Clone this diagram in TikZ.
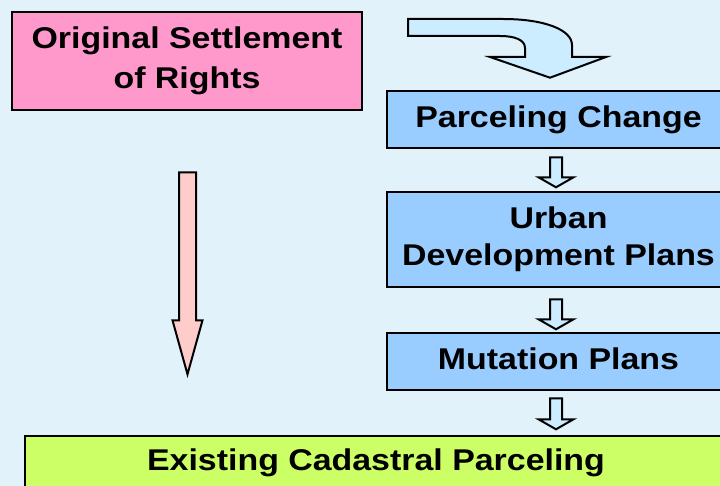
\documentclass[tikz,border=0pt]{standalone}
\usepackage{fontspec}
\usepackage{graphicx}
\setmainfont{Liberation Sans}
\usetikzlibrary{calc}
\definecolor{bgc}{RGB}{226,242,250}
\definecolor{pinkbox}{RGB}{255,153,204}
\definecolor{bluebox}{RGB}{153,204,255}
\definecolor{greenbox}{RGB}{204,255,102}
\definecolor{pinkarrow}{RGB}{255,204,204}
\definecolor{bluearrow}{RGB}{204,236,255}
\newcommand\widetxt[1]{\scalebox{1.13}[1]{\begin{tabular}{@{}c@{}}#1\end{tabular}}}
% #1 top centre, #2 total length, #3 shaft half width, #4 head half width, #5 head length, #6 style
\newcommand\blockdown[6]{%
  \draw[#6] ($(#1)+(-#3,0)$) -- ($(#1)+(-#3,#2-#5)$) -- ($(#1)+(-#4,#2-#5)$)
    -- ($(#1)+(0,#2)$) -- ($(#1)+(#4,#2-#5)$) -- ($(#1)+(#3,#2-#5)$)
    -- ($(#1)+(#3,0)$) -- cycle;}
\tikzset{
  box/.style={draw=black, line width=2.6pt, inner sep=0pt, anchor=center,
    font=\fontsize{30}{39}\selectfont\bfseries},
  barrow/.style={draw=black, line width=2pt, line join=miter},
}
\begin{document}
\begin{tikzpicture}[x=1pt, y=-1pt]
\useasboundingbox (0,0) rectangle (720,486);
\clip (0,0) rectangle (720,486);
\fill[bgc] (0,0) rectangle (720,486);

% boxes
\node[box, fill=pinkbox, minimum width=350pt, minimum height=98pt] (orig) at (187,61)
  {\widetxt{Original Settlement\\[1pt]of Rights}};
\node[box, fill=bluebox, minimum width=343pt, minimum height=57pt] (parcel) at (558.5,119.5)
  {\widetxt{Parceling Change}};
\node[box, fill=bluebox, minimum width=343pt, minimum height=95pt] (urban) at (558.5,239.5)
  {\widetxt{Urban\\[-2pt]Development Plans}};
\node[box, fill=bluebox, minimum width=343pt, minimum height=57pt] (mut) at (558.5,361.5)
  {\widetxt{Mutation Plans}};
\node[box, fill=greenbox, minimum width=702pt, minimum height=54pt] (exist) at (376,463)
  {\raisebox{0pt}{\widetxt{Existing Cadastral Parceling}}};

% curved arrow into Parceling Change
\coordinate (ctip) at ($(parcel.north)+(-8.5,-12)$);
\draw[barrow, fill=bluearrow] (408,19) -- (503,19)
  .. controls (545,19) and (572,30) .. (572,45) -- (572,57) -- (606,57)
  -- (ctip) -- (490,57) -- (525,57) -- (525,48)
  .. controls (525,40) and (515,36) .. (500,36) -- (408,36) -- cycle;

% small block arrows between the blue boxes
\coordinate (a1) at ($(parcel.south)+(-2.5,8)$);
\coordinate (a2) at ($(urban.south)+(-2.5,11)$);
\coordinate (a3) at ($(mut.south)+(-2.5,7)$);
\blockdown{a1}{30}{6}{17.5}{10}{barrow, fill=bluearrow}
\blockdown{a2}{30}{6}{17.5}{10}{barrow, fill=bluearrow}
\blockdown{a3}{31}{6}{17.5}{10}{barrow, fill=bluearrow}

% long pink arrow
\coordinate (p1) at ($(orig.south)+(0.5,61)$);
\blockdown{p1}{202}{8.5}{15}{54}{barrow, fill=pinkarrow}
\end{tikzpicture}
\end{document}
